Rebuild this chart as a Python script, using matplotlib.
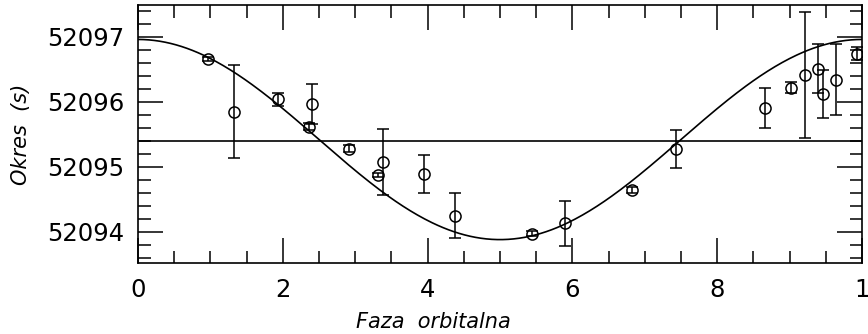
import numpy as np
import matplotlib
matplotlib.use("Agg")
import matplotlib.pyplot as plt
from matplotlib.ticker import MultipleLocator

# measured periods vs orbital phase
phase = [0.096, 0.132, 0.194, 0.236, 0.241, 0.292, 0.331, 0.338, 0.395, 0.438,
         0.544, 0.590, 0.682, 0.743, 0.866, 0.902, 0.921, 0.939, 0.946, 0.964, 0.993]
period = [52096.66, 52095.85, 52096.04, 52095.62, 52095.97, 52095.28, 52094.88,
          52095.07, 52094.89, 52094.25, 52093.97, 52094.13, 52094.64, 52095.27,
          52095.91, 52096.22, 52096.41, 52096.51, 52096.12, 52096.34, 52096.74]
period_err = [0.03, 0.72, 0.10, 0.06, 0.31, 0.05, 0.03, 0.51, 0.29, 0.35,
              0.04, 0.35, 0.05, 0.29, 0.31, 0.08, 0.97, 0.38, 0.37, 0.55, 0.10]

# fitted orbit model
mean_period = 52095.42
amplitude = 1.54
rest_period = 52095.39

x_ticks = [0, 0.2, 0.4, 0.6, 0.8, 1.0]
x_ticklabels = ["0", "2", "4", "6", "8", "1"]
y_ticks = [52094, 52095, 52096, 52097]

fig = plt.figure(figsize=(8.68, 3.34), dpi=100)
ax = fig.add_axes([138 / 868, 1 - 263 / 334, 724 / 868, 258 / 334])

phi = np.linspace(0, 1, 400)
ax.plot(phi, mean_period + amplitude * np.cos(2 * np.pi * phi), color="black", lw=1.2)
ax.axhline(rest_period, color="black", lw=1.2)

ax.errorbar(phase, period, yerr=period_err, fmt="o", mfc="none", mec="black",
            ms=8, mew=1.1, ecolor="black", elinewidth=1.1, capsize=4, capthick=1.1)

ax.set_xlim(0, 1)
ax.set_ylim(52093.52, 52097.49)
ax.set_xticks(x_ticks)
ax.set_xticklabels(x_ticklabels)
ax.set_yticks(y_ticks)
ax.xaxis.set_minor_locator(MultipleLocator(0.05))
ax.yaxis.set_minor_locator(MultipleLocator(0.2))
ax.ticklabel_format(axis="y", useOffset=False)
ax.tick_params(which="both", direction="in", top=True, right=True, width=1.1, colors="black")
ax.tick_params(which="major", length=18, labelsize=17.5)
ax.tick_params(which="minor", length=9)
ax.tick_params(axis="x", which="major", pad=11)
ax.tick_params(axis="y", which="major", pad=10)
for side in ax.spines.values():
    side.set_linewidth(1.2)

ax.set_xlabel("Faza  orbitalna", fontsize=15, style="italic")
ax.xaxis.set_label_coords((433 - 138) / 724, -0.19)
ax.set_ylabel("Okres  (s)", fontsize=15, style="italic")
ax.yaxis.set_label_coords(-0.148, 0.5)

fig.savefig("out.png", dpi=100)
